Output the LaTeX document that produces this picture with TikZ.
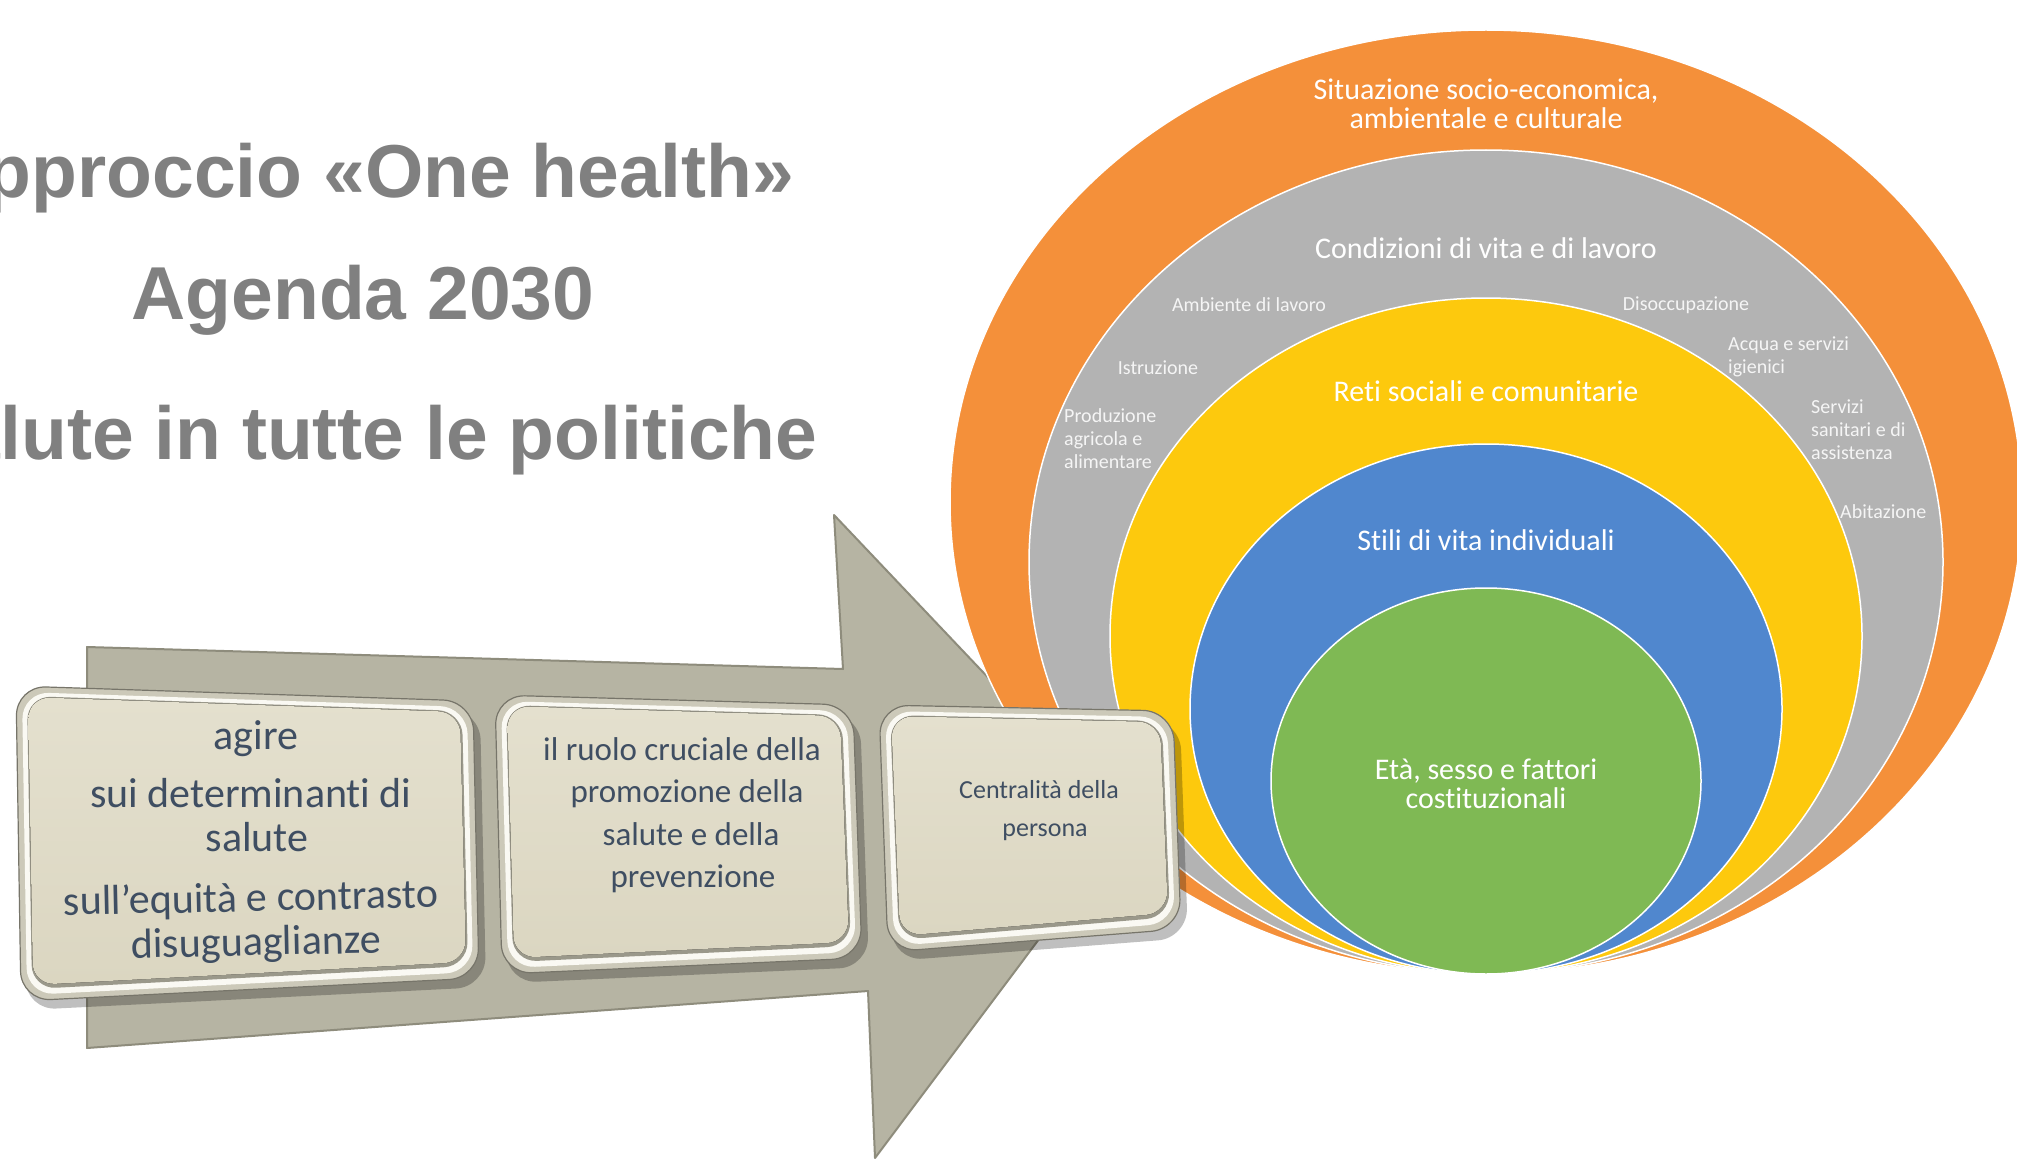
\documentclass[tikz,border=0pt]{standalone}
\usepackage{fontspec}
\setmainfont{Carlito}[Ligatures=NoCommon]
\newfontfamily\titlefont{Liberation Sans}
\usetikzlibrary{calc}
\definecolor{ringorange}{HTML}{F4903A}
\definecolor{ringgray}{HTML}{B3B3B3}
\definecolor{ringyellow}{HTML}{FDC90D}
\definecolor{ringblue}{HTML}{5087CE}
\definecolor{ringgreen}{HTML}{7FB954}
\definecolor{titlegray}{HTML}{808080}
\definecolor{boxtext}{HTML}{3F4E62}
\definecolor{arrowfill}{HTML}{B6B4A3}
\definecolor{arrowedge}{HTML}{8E8C7C}
\definecolor{rimcol}{HTML}{CCC9B9}
\definecolor{rimedge}{HTML}{77756A}
\definecolor{whiteband}{HTML}{FAF9F3}
\definecolor{darkband}{HTML}{9A988A}
\definecolor{facetop}{HTML}{E4E0CE}
\definecolor{facebot}{HTML}{DBD6C1}
\newcommand{\bevelbox}[1]{%
  \fill[boxshadow] ($(#1tl)+(5,9)$) -- ($(#1tr)+(7,9)$) -- ($(#1br)+(7,9)$) -- ($(#1bl)+(5,9)$) -- cycle;
  \filldraw[boxrim] (#1tl) -- (#1tr) -- (#1br) -- (#1bl) -- cycle;
  \fill[boxwhite] ($(#1tl)+(6,6)$) -- ($(#1tr)+(-6,6)$) -- ($(#1br)+(-6,-6)$) -- ($(#1bl)+(6,-6)$) -- cycle;
  \fill[boxdark] ($(#1tl)+(11,10)$) -- ($(#1tr)+(-11,10)$) -- ($(#1br)+(-11,-12)$) -- ($(#1bl)+(11,-12)$) -- cycle;
  \fill[boxface] ($(#1tl)+(12,11)$) -- ($(#1tr)+(-13,11)$) -- ($(#1br)+(-13,-16)$) -- ($(#1bl)+(12,-16)$) -- cycle;
}
\begin{document}
\begin{tikzpicture}[x=1pt,y=-1pt,
  titletext/.style={font=\titlefont\bfseries\fontsize{75}{90}\selectfont, text=titlegray, inner sep=0pt, anchor=base},
  arrowbody/.style={fill=arrowfill, draw=arrowedge, line width=2pt, line join=round},
  ring/.style={draw=white, line width=1.5pt},
  ringlabel/.style={font=\fontsize{30}{29}\selectfont, text=white, align=center, inner sep=0pt},
  smalllabel/.style={font=\fontsize{20}{23}\selectfont, text=white!96!black, align=left, inner sep=0pt},
  boxshadow/.style={fill=black, opacity=0.25, rounded corners=30pt},
  boxrim/.style={fill=rimcol, draw=rimedge, line width=1.2pt, rounded corners=30pt},
  boxwhite/.style={fill=whiteband, rounded corners=27pt},
  boxdark/.style={fill=darkband, rounded corners=24pt},
  boxface/.style={top color=facetop, bottom color=facebot, rounded corners=22pt},
  boxline/.style={text=boxtext, inner sep=0pt, text height=0.66em, text depth=0.18em, anchor=center},
  big/.style={font=\fontsize{42}{45}\selectfont},
  mid/.style={font=\fontsize{33}{40}\selectfont},
  sml/.style={font=\fontsize{26}{30}\selectfont}
]
\useasboundingbox (0,0) rectangle (2017,1161);
\clip (0,0) rectangle (2017,1161);
\fill[white] (0,0) rectangle (2017,1161);

% titles
\node[titletext] (t1) at (363,197) {Approccio «One health»};
\node[titletext] (t2) at (363,319) {Agenda 2030};
\node[titletext] (t3) at (363,459) {Salute in tutte le politiche};

% big arrow
\coordinate (a1) at (87,647);
\coordinate (a2) at (843,669);
\coordinate (a3) at (834,515);
\coordinate (a4) at (1126,823);
\coordinate (a5) at (875,1158);
\coordinate (a6) at (868,991);
\coordinate (a7) at (87,1048);
\filldraw[arrowbody] (a1) -- (a2) -- (a3) -- (a4) -- (a5) -- (a6) -- (a7) -- cycle;

% nested determinant rings
\filldraw[ring, fill=ringorange] (1486,502) ellipse [x radius=536, y radius=472];
\filldraw[ring, fill=ringgray] (1486,562) ellipse [x radius=457, y radius=412];
\filldraw[ring, fill=ringyellow] (1486,636) ellipse [x radius=376, y radius=338];
\filldraw[ring, fill=ringblue] (1486,709) ellipse [x radius=296, y radius=265];
\filldraw[ring, fill=ringgreen] (1486,781) ellipse [x radius=215, y radius=193];

\node[ringlabel] (l1) at (1486,104) {Situazione socio-economica,\\ambientale e culturale};
\node[ringlabel] (l2) at (1486,248) {Condizioni di vita e di lavoro};
\node[ringlabel] (l3) at (1486,391) {Reti sociali e comunitarie};
\node[ringlabel] (l4) at (1486,540) {Stili di vita individuali};
\node[ringlabel] (l5) at (1486,784) {Età, sesso e fattori\\costituzionali};

\node[smalllabel] (s1) at (1249,305) {Ambiente di lavoro};
\node[smalllabel] (s2) at (1686,305) {Disoccupazione};
\node[smalllabel] (s3) at (1158,368) {Istruzione};
\node[smalllabel, anchor=west] (s4) at (1728,357) {Acqua e servizi\\igienici};
\node[smalllabel, anchor=west] (s5) at (1064,439) {Produzione\\agricola e\\alimentare};
\node[smalllabel, anchor=west] (s6) at (1811,430) {Servizi\\sanitari e di\\assistenza};
\node[smalllabel, anchor=west] (s7) at (1840,512) {Abitazione};

% boxes
\coordinate (b1tl) at (16,686);
\coordinate (b1tr) at (473,701);
\coordinate (b1br) at (479,978);
\coordinate (b1bl) at (21,1001);
\coordinate (b2tl) at (495,695);
\coordinate (b2tr) at (853,705);
\coordinate (b2br) at (862,958);
\coordinate (b2bl) at (502,974);
\coordinate (b3tl) at (879,705);
\coordinate (b3tr) at (1173,711);
\coordinate (b3br) at (1181,929);
\coordinate (b3bl) at (888,952);
\bevelbox{b1}
\bevelbox{b2}
\bevelbox{b3}

\node[boxline, big] (p1) at (256,747) {agire};
\node[boxline, big] (p2) at (251,805) {sui determinanti di};
\node[boxline, big] (p3) at (257,849) {salute};
\node[boxline, big, rotate=1.2] (p4) at (251,909) {sull’equità e contrasto};
\node[boxline, big, rotate=1.2] (p5) at (256,953) {disuguaglianze};

\node[boxline, mid] (q1) at (682,758) {il ruolo cruciale della};
\node[boxline, mid] (q2) at (687,800) {promozione della};
\node[boxline, mid] (q3) at (691,843) {salute e della};
\node[boxline, mid] (q4) at (693,885) {prevenzione};

\node[boxline, sml] (r1) at (1039,796) {Centralità della};
\node[boxline, sml] (r2) at (1045,834) {persona};
\end{tikzpicture}
\end{document}
